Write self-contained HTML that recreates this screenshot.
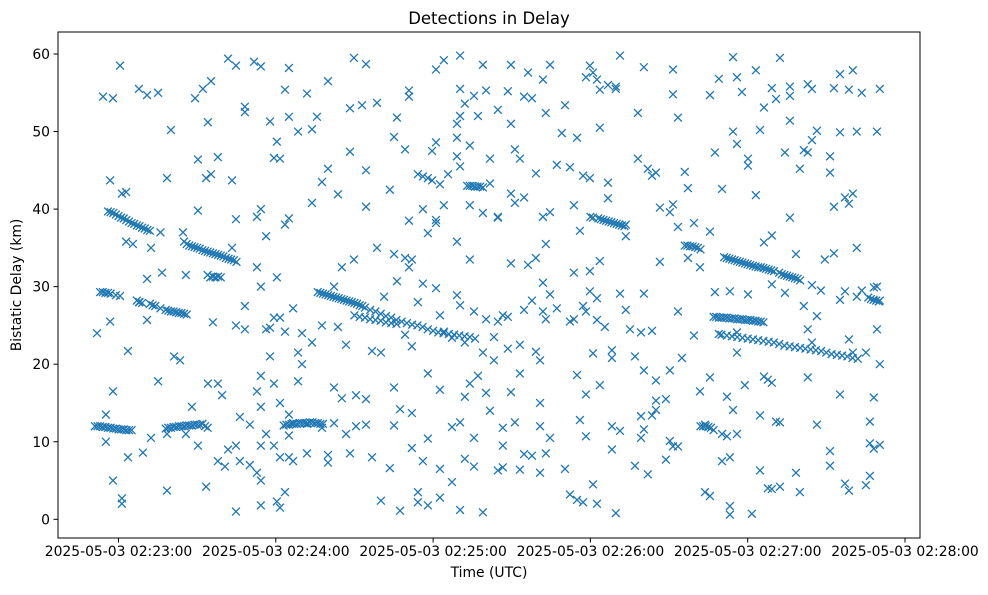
<!DOCTYPE html>
<html><head><meta charset="utf-8"><style>
html,body{margin:0;padding:0;background:#fff;}
svg text{font-family:"DejaVu Sans","Liberation Sans",sans-serif;fill:#000;}
</style></head><body>
<svg id="chart" width="988" height="590" viewBox="0 0 988 590" xmlns="http://www.w3.org/2000/svg">
<rect width="988" height="590" fill="#fff"/>
<text x="489" y="24" font-size="16.5" text-anchor="middle">Detections in Delay</text>
<g id="marks"></g>
<rect x="58" y="32" width="862" height="506" fill="none" stroke="#000" stroke-width="1"/>
<g id="xaxis"></g>
<g id="yaxis"></g>
<text x="489" y="577" font-size="13.9" text-anchor="middle">Time (UTC)</text>
<text transform="translate(21,285) rotate(-90)" font-size="13.9" text-anchor="middle">Bistatic Delay (km)</text>
</svg>
<script>
// seconds after 2025-05-03 02:22:00
const xTickSeconds = [60,120,180,240,300,360];
const xTickLabels = ["2025-05-03 02:23:00","2025-05-03 02:24:00","2025-05-03 02:25:00","2025-05-03 02:26:00","2025-05-03 02:27:00","2025-05-03 02:28:00"];
const yTickValues = [0,10,20,30,40,50,60];

const trackTimes = [
 [51,52,53,54,55,56,57,58,59,60,61,62,63,64,65],
 [56,57,58,59,60,61,62,63,64,65,66,67,68,69,70,71,72,76],
 [53,54,55,56,57,59],
 [67,68,69,72,73,74,76,78,79,80,81,82,83,84,85,86],
 [78,79,80,81,82,83,84,85,86,87,88,89,90,91,92,93,94],
 [85,86,87,88,89,90,91,92,93,94,95,96,97,98,99,100,101,102,103,104,105],
 [94,95,96,97,98,99],
 [123,124,125,126,127,128,129,130,131,132,133,134,135,136,137,138],
 [136,137,138,139,140,141,142,143,144,145,146,147,148,149,150,151,152,153,154,156,158,160,162,164,166,168,170,172,174,176,178,180,182,184,186,188,190,192,194,196],
 [150,152,154,156,158,160,162,164,166],
 [193,194,195,196,197,198,199],
 [240,241,243,244,245,246,247,248,249,250,251,252,253],
 [276,277,278,279,280,281,282],
 [291,292,293,294,295,296,297,298,299,300,301,302,303,304,305,306,307,308,309,310,312],
 [313,314,315,316,317,318,319,320],
 [287,288,289,290,291,292,293,294,295,296,297,298,299,300,301,302,303,304,305,306],
 [289,290,292,294,296,298,300,302,304,306,308,310,312,314,316,318,320,322,324,326,328,330,332,334,336,338,340,342],
 [282,283,284,285,286,287],
 [346,347,348,349,350]
];
const trackKm = [
 [12,12,12,11.9,11.9,11.8,11.8,11.7,11.7,11.6,11.6,11.6,11.5,11.5,11.5],
 [39.7,39.6,39.5,39.3,39.1,38.9,38.8,38.6,38.4,38.2,38.1,37.9,37.8,37.6,37.5,37.3,37.2,37],
 [29.3,29.3,29.2,29.2,29.1,28.9],
 [28.2,28,27.9,27.8,27.6,27.5,27.2,27,26.9,26.8,26.8,26.7,26.6,26.6,26.5,26.4],
 [11.7,11.8,11.8,11.9,11.9,12,12,12,12.1,12.1,12.1,12.2,12.2,12.2,12.3,12,11.8],
 [35.8,35.5,35.3,35.2,35.1,35,34.9,34.7,34.6,34.5,34.4,34.3,34.2,34.1,34,33.9,33.7,33.6,33.5,33.4,33.2],
 [31.5,31.2,31.3,31.2,31.3,31.2],
 [12.1,12.2,12.2,12.3,12.3,12.3,12.4,12.4,12.4,12.4,12.5,12.5,12.4,12.4,12.3,12.3],
 [29.3,29.2,29.1,29,28.9,28.8,28.7,28.6,28.5,28.4,28.3,28.2,28.1,28,27.9,27.8,27.6,27.5,27.3,27,26.8,26.5,26.2,26,25.7,25.5,25.3,25.1,25,24.8,24.5,24.3,24.1,24,23.9,23.8,23.7,23.6,23.5,23.3],
 [26.3,26.1,26,25.8,25.7,25.6,25.4,25.3,25.2],
 [43,43,43,42.9,42.9,42.9,42.8],
 [39,38.9,38.8,38.7,38.6,38.5,38.4,38.3,38.2,38.1,38,37.9,37.8],
 [35.3,35.3,35.2,35.2,35.1,35,34.8],
 [33.8,33.7,33.6,33.5,33.4,33.3,33.2,33.1,33,32.9,32.8,32.7,32.6,32.5,32.5,32.4,32.3,32.2,32.1,32,31.8],
 [31.6,31.5,31.4,31.3,31.2,31.1,31,30.8],
 [26.1,26.1,26,26,26,26,25.9,25.9,25.9,25.8,25.8,25.8,25.7,25.7,25.7,25.6,25.6,25.5,25.5,25.4],
 [23.9,23.8,23.7,23.6,23.5,23.4,23.3,23.2,23.1,23,22.9,22.8,22.6,22.4,22.3,22.2,22.1,22,21.9,21.8,21.7,21.5,21.3,21.2,21.1,21,20.8,20.7],
 [12,12,12,11.9,11.8,11.5],
 [28.6,28.4,28.3,28.2,28.1]
];
const scatterTimes = [51.8,54.1,55.2,56.8,57.9,60.6,61.3,62.9,63.6,65.5,67.8,69.3,70.9,72.4,75.1,76.6,78.5,80,81.2,83.5,84.6,85.7,88,89.2,90.3,92.2,93.4,94.1,95.3,96,97.9,99.5,100.6,101.8,103.3,104.8,106.3,108.2,110.1,111.7,112.8,114.3,116.3,117.8,119.3,120.4,121.6,123.5,125,126.6,128.5,130,131.9,133.8,135.7,137.6,139.9,142.2,143.7,145.2,146.8,148.3,149.8,150.6,152.9,154.4,156.7,158.6,160.1,161.3,163.5,165.1,166.2,167.4,169.3,170.8,171.9,174.2,176.1,178,179.6,181.1,182.6,184.1,185.7,187.2,189.1,190.3,192.1,194,195.6,197.1,199,200.2,201.7,203.2,204.7,206.6,208.5,209.7,211.2,213.1,214.7,216.2,217.7,219.2,220.8,221.9,223,224.6,227.2,229.1,230.3,232.2,233.7,234.9,236,237.2,238.3,239.8,241,242.5,243.6,245.5,246.7,248.2,249.7,251.3,253.5,255.1,257,258.1,259.3,260.4,261.9,263.5,265,266.5,268.8,270.3,271.5,273.4,274.9,276,277.2,279.5,281.8,283.7,285.6,287.5,289,290.2,292.1,293.2,294.4,295.9,297.8,298.9,300.1,301.6,303.1,304.7,306.2,307.7,309.2,310.8,312.3,314.2,316.1,318.4,319.9,321.4,322.9,324.5,326.4,327.9,329.4,331.4,332.9,335.2,337.1,338.6,340.1,341.6,343.5,345.1,346.6,348.1,349.3,350.4];
const scatterKm = [[24],[54.5],[10,13.5],[25.5,43.7],[54.3,16.5,5],[58.5,28.8],[2.7,2,42],[35.8,42.2],[21.7,8],[35.5],[55.5,28],[8.6],[54.7,31,25.7],[35,10.5],[55,17.8],[31.8],[3.7,44,11],[50.2],[21],[20.5],[37],[31.5,11],[14.5],[54.3],[46.4,39.8,9.5],[55.5],[4.2,44],[51.2,17.5],[56.5,44.5],[25.4],[46.7,17.5,7.5],[16],[6.8],[59.4,9],[43.7,35],[58.5,38.7,25,9.5,1],[13.2,7.5],[52.5,53.2,27.5,24.5],[12.2,7],[59],[39,32.5,16.5,6],[58.4,40,30,18.5,14.5,9.5,5,1.8],[36.5,24.5,11],[51.3,24.7,21],[46.6,26,17.5,9.5],[48.7,31.2,2.3],[46.5,26,15,8,1.5],[55.4,38,24.2,3.5],[58.2,51.9,38.8,13.5,10.8,8],[27.2,12.4,7.5],[50,21.5,17.8],[24,20],[54.9,12.3,8.5],[50.3,40.8,22.8],[51.9],[43.5,25,11.8],[56.5,45.2,8.3,7.3],[30,17,12.4],[41.9,24.8],[32.5,15.6],[22.5,11],[53,47.4,8.5],[59.5,33.5],[16,12],[53.4],[58.7,45,40.3,15.5,12.2],[21.7,8],[53.7,35],[21.5,2.4],[28.7],[42.5,6.6],[49.3,34.2,17,12.1],[51.8,30.7],[1.1,14.2],[47.7,33.7,23.8],[55.3,38.5,54.5,32.5],[33.5,22.3,13.7,9.2],[44.5,28,2.2,3.5],[44.2,40,30.4,7.5],[44,36.9,18.8,10.4,1.8],[47.5,43.7],[58,48.6,38.2,29.8,38.6],[43.2,26.3,16.7,6.5,2.8],[59.2,40.5,24.2],[44.5],[23.4,11.9,4.8],[51,49.2,46.8,35.8,28.9],[59.8,55.5,52,45.5,27.6,12.5,1.2],[53.6,22.8,15.8,7.8],[48.2,40.5,33.5,17.5],[54.6,26.8,10.5,6.8],[52,18.5],[58.6,39.5,21.5,0.9],[55.3,25.8,16.3],[46.5,43.3,14],[23.5,20.5],[52.8,39,38.9,25.5,6.3],[26.3,11.8,9.5,6.7],[55.2,22,26.1],[58.6,51,42,33,16.4],[47.7,40.8,12.5],[46.5,22.5,18.8,6.4],[54.5,41.5,27,8.4],[57.6,32.8],[54.3,28.2,8.2],[44.6,33.7,21.6],[20.5,15,12,6],[56.7,39,30.5,26.8],[52.4,35.5,25.8,8.5],[58.6,39.6,29,10.5],[45.7,27.2],[49.8],[53.4,6.5],[45.4,25.5,3.2],[40.5,31.8,25.8],[49.2,18.6,2.5],[37.2,12.8],[44.3,27.5,2.2],[57,26.8,16.1,10.7],[58.5,44,32,29.4],[57.6,4.5,21.4],[56.7,28.5,25.7,2],[55.4,50.5,33.3,17.3],[24.8],[56,41.4,43.4],[21.8,20.8,12,9],[55.8,55.5,0.8],[59.8,29.1,11.4],[38,36.5,27],[24.5],[6.9,21],[52.4,46.5],[24.1,13.3,10.5],[58.3,29.1,19.2,11.6],[45.2,5.8],[44.3,24.3,13.4],[44.7,17.9,15.3,14.1],[40.2,33.2],[7.7,15.5],[39.6,19.2,10.1],[58,54.8,40.6,9.4],[51.8,37.7,26.8,9.4],[20.8],[44.8],[42.7,33.7],[38.2,23.7],[32.5,16.5],[12.2,3.5],[54.7,37.1,18.3,3],[47.3,29.3],[56.8],[42.6,11,7.5],[15.8,10.7],[29.4,8,1.7,0.6],[59.6,50,14.1],[57,48.4,24.1,21.5,11],[55.1],[17.3],[46.5,45.6,29],[0.7],[57.9,41.8],[50.2,13.4,6.3],[53.1,35.7,18.4],[18,4],[55.6,36.6,30.3,17.6,3.9],[54.2,12.6],[59.5,12.5,4.2],[47.3,29.2],[54.6,55.8,51.4,38.9],[34.2,6],[45.2,3.5],[47.6,27.5],[56.1,47.3,24.5,18.3],[55.5,48.9,22.8,30.2],[50.1,26.2,12.2],[29.5],[33.5],[46.8,44.7,8.8,6.9],[55.6,40.3,34.3],[57.4,49.9,28.3,16.1],[41.5,29.4,4.6],[55.4,40.7,23.2,3.7],[57.9,42,21.5],[50,35,28.7],[55,29.5],[21.5,4.4],[12.6,9.8,5.6],[15.7,29.9,9.1],[50,30,24.5],[55.5,28.2,20,9.6]];

const NS='http://www.w3.org/2000/svg';
function xScale(t){return 118.5+(t-60)*157.3/60;}
function yScale(v){return 519.3-v*(465.3/60);}
const marks=document.getElementById('marks');
function drawX(t,v){
  const x=xScale(t), y=yScale(v), r=3.9;
  const p=document.createElementNS(NS,'path');
  p.setAttribute('d',`M${x-r},${y-r}L${x+r},${y+r}M${x-r},${y+r}L${x+r},${y-r}`);
  p.setAttribute('stroke','#1f77b4');
  p.setAttribute('stroke-width','1.3');
  p.setAttribute('fill','none');
  
  
  marks.appendChild(p);
}
trackTimes.forEach((ts,i)=>ts.forEach((t,j)=>drawX(t,trackKm[i][j])));
scatterTimes.forEach((t,i)=>scatterKm[i].forEach(v=>drawX(t,v)));

const xa=document.getElementById('xaxis');
xTickSeconds.forEach((s,i)=>{
  const x=xScale(s);
  const l=document.createElementNS(NS,'line');
  l.setAttribute('x1',x);l.setAttribute('x2',x);l.setAttribute('y1',538);l.setAttribute('y2',542.5);
  l.setAttribute('stroke','#000');
  
  
  xa.appendChild(l);
  const tx=document.createElementNS(NS,'text');
  tx.setAttribute('x',x);tx.setAttribute('y',556);tx.setAttribute('font-size','13.9');tx.setAttribute('text-anchor','middle');
  tx.textContent=xTickLabels[i];
  
  
  xa.appendChild(tx);
});
const ya=document.getElementById('yaxis');
yTickValues.forEach(v=>{
  const y=yScale(v);
  const l=document.createElementNS(NS,'line');
  l.setAttribute('x1',53.5);l.setAttribute('x2',58);l.setAttribute('y1',y);l.setAttribute('y2',y);
  l.setAttribute('stroke','#000');
  
  
  ya.appendChild(l);
  const tx=document.createElementNS(NS,'text');
  tx.setAttribute('x',50);tx.setAttribute('y',y+5);tx.setAttribute('font-size','13.9');tx.setAttribute('text-anchor','end');
  tx.textContent=String(v);
  
  
  ya.appendChild(tx);
});
</script>
</body></html>
